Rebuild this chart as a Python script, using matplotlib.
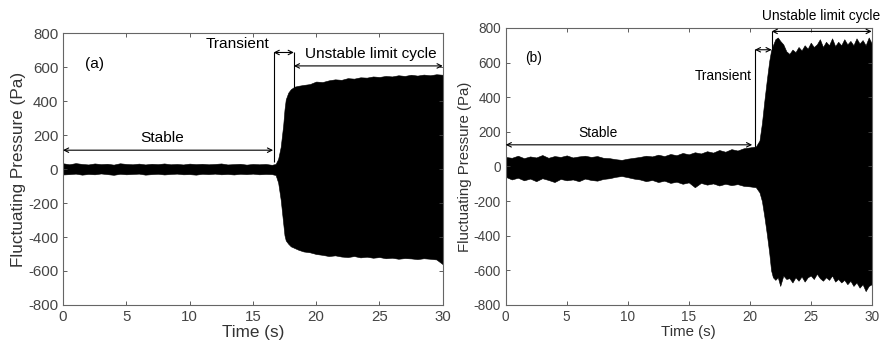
import matplotlib.pyplot as plt
import numpy as np

plt.rcParams['font.family'] = ['Liberation Sans', 'DejaVu Sans']
plt.rcParams['axes.unicode_minus'] = False

# ---- panel (a): envelope of the pressure signal ----
t_a = [0, 0.5, 1, 1.5, 2, 2.5, 3, 3.5, 4, 4.5, 5, 5.5, 6, 6.5, 7, 7.5, 8, 8.5,
       9, 9.5, 10, 10.5, 11, 11.5, 12, 12.5, 13, 13.5, 14, 14.5, 15, 15.5, 16,
       16.5, 16.8, 17.0, 17.2, 17.4, 17.5, 17.6, 17.8, 18.0, 18.3, 18.6, 19,
       19.5, 20, 20.5, 21, 21.5, 22, 22.5, 23, 23.5, 24, 24.5, 25, 25.5, 26,
       26.5, 27, 27.5, 28, 28.5, 29, 29.5, 30]
up_a = [34, 28, 35, 30, 27, 33, 29, 31, 26, 34, 30, 28, 32, 27, 31, 29, 33, 28,
        30, 27, 32, 29, 31, 28, 30, 33, 27, 29, 31, 26, 30, 28, 30, 25,
        30, 60, 130, 260, 350, 410, 450, 470, 485, 490, 495,
        500, 515, 512, 522, 528, 525, 535, 532, 540, 538, 545, 542, 548, 545,
        552, 548, 555, 550, 556, 552, 558, 555]
lo_a = [-32, -30, -27, -33, -29, -31, -26, -30, -34, -28, -31, -29, -27, -33, -30, -28, -32, -29,
        -27, -31, -30, -33, -28, -30, -27, -31, -29, -32, -28, -30, -27, -31, -29,
        -30, -35, -80, -180, -320, -390, -420, -440, -455, -465, -475, -485,
        -490, -500, -505, -512, -508, -515, -518, -512, -520, -516, -522, -518, -525, -522,
        -528, -524, -526, -530, -525, -528, -532, -560]

# ---- panel (b) ----
t_b = [0, 0.5, 1, 1.5, 2, 2.5, 3, 3.5, 4, 4.5, 5, 5.5, 6, 6.5, 7, 7.5, 8, 8.5,
       9, 9.5, 10, 10.5, 11, 11.5, 12, 12.5, 13, 13.5, 14, 14.5, 15, 15.5, 16,
       16.5, 17, 17.5, 18, 18.5, 19, 19.5, 20, 20.5, 20.8, 21.0, 21.2, 21.4,
       21.6, 21.75, 21.9, 22.1, 22.3, 22.5, 22.75, 23, 23.25, 23.5, 23.75, 24,
       24.25, 24.5, 24.75, 25, 25.25, 25.5, 25.75, 26, 26.25, 26.5, 26.75, 27,
       27.25, 27.5, 27.75, 28, 28.25, 28.5, 28.75, 29, 29.25, 29.5, 29.75, 30]
up_b = [55, 50, 62, 48, 58, 52, 66, 50, 60, 55, 64, 52, 58, 62, 55, 60, 50, 48,
        42, 38, 45, 50, 55, 62, 58, 68, 60, 72, 65, 78, 70, 82, 75, 88, 80, 95,
        85, 100, 92, 105, 110, 115, 150, 250, 380, 500,
        610, 670, 700, 735, 745, 725, 705, 665, 650, 675, 660, 690,
        670, 700, 680, 715, 690, 705, 735, 690, 720, 700, 740, 695,
        720, 700, 735, 705, 725, 700, 740, 710, 730, 700, 745, 710]
lo_b = [-60, -75, -65, -80, -70, -85, -68, -78, -90, -72, -80, -75, -85, -70, -78, -82, -72, -68,
        -60, -55, -62, -70, -75, -85, -78, -90, -82, -95, -88, -100, -92, -120, -95, -105, -98, -110,
        -100, -108, -102, -112, -115, -120, -150, -200, -290, -390,
        -500, -600, -640, -655, -640, -690, -630, -650, -645, -670, -640, -660,
        -635, -665, -640, -630, -650, -620, -645, -660, -640, -655, -630, -665,
        -650, -670, -655, -680, -660, -690, -670, -700, -680, -720, -690, -680]

xticks = [0, 5, 10, 15, 20, 25, 30]
yticks = [-800, -600, -400, -200, 0, 200, 400, 600, 800]


def style(ax, tick_fs, label_fs):
    ax.set_xlim(0, 30)
    ax.set_ylim(-800, 800)
    ax.set_xticks(xticks)
    ax.set_yticks(yticks)
    ax.tick_params(direction='in', top=True, right=True, length=3,
                   labelsize=tick_fs, colors='#444444', width=0.6)
    for s in ax.spines.values():
        s.set_color('#666666')
        s.set_linewidth(0.8)
    ax.set_xlabel('Time (s)', fontsize=label_fs, color='#333333', labelpad=1)
    ax.set_ylabel('Fluctuating Pressure (Pa)', fontsize=label_fs, color='#333333', labelpad=1)


def arrow(ax, x0, x1, y):
    ax.annotate('', xy=(x0, y), xytext=(x1, y),
                arrowprops=dict(arrowstyle='<->', color='black', lw=0.8,
                                shrinkA=0, shrinkB=0, mutation_scale=8),
                annotation_clip=False)


fig = plt.figure(figsize=(8.81, 3.45), dpi=100)
ax1 = fig.add_axes([0.0715, 0.116, 0.431, 0.788])
ax2 = fig.add_axes([0.574, 0.116, 0.4155, 0.803])

# panel (a)
ax1.fill_between(t_a, lo_a, up_a, color='black', lw=0.4, edgecolor='black')
style(ax1, 10.8, 12.3)
arrow(ax1, 0, 16.6, 111)
ax1.text(7.8, 180, 'Stable', fontsize=11.1, ha='center', va='center')
ax1.vlines([16.64], 40, 690, color='black', lw=0.8)
ax1.vlines([18.24], 470, 690, color='black', lw=0.8)
arrow(ax1, 16.64, 18.24, 686)
ax1.text(16.3, 735, 'Transient', fontsize=11.1, ha='right', va='center')
arrow(ax1, 18.24, 30, 607)
ax1.text(24.3, 677, 'Unstable limit cycle', fontsize=11.1, ha='center', va='center')
ax1.text(2.45, 620, '(a)', fontsize=11.1, ha='center', va='center')

# panel (b)
ax2.fill_between(t_b, lo_b, up_b, color='black', lw=0.4, edgecolor='black')
style(ax2, 9.8, 10.8)
arrow(ax2, 0, 20.2, 125)
ax2.text(7.6, 193, 'Stable', fontsize=9.9, ha='center', va='center')
ax2.vlines([20.42], 110, 680, color='black', lw=0.8)
ax2.vlines([21.8], 650, 785, color='black', lw=0.8)
arrow(ax2, 20.42, 21.8, 674)
ax2.text(20.15, 520, 'Transient', fontsize=9.9, ha='right', va='center')
arrow(ax2, 21.8, 30, 780)
ax2.text(30.7, 867, 'Unstable limit cycle', fontsize=9.9, ha='right', va='center',
         clip_on=False)
ax2.text(2.27, 626, '(b)', fontsize=9.9, ha='center', va='center')

fig.savefig('out.png', dpi=100)
